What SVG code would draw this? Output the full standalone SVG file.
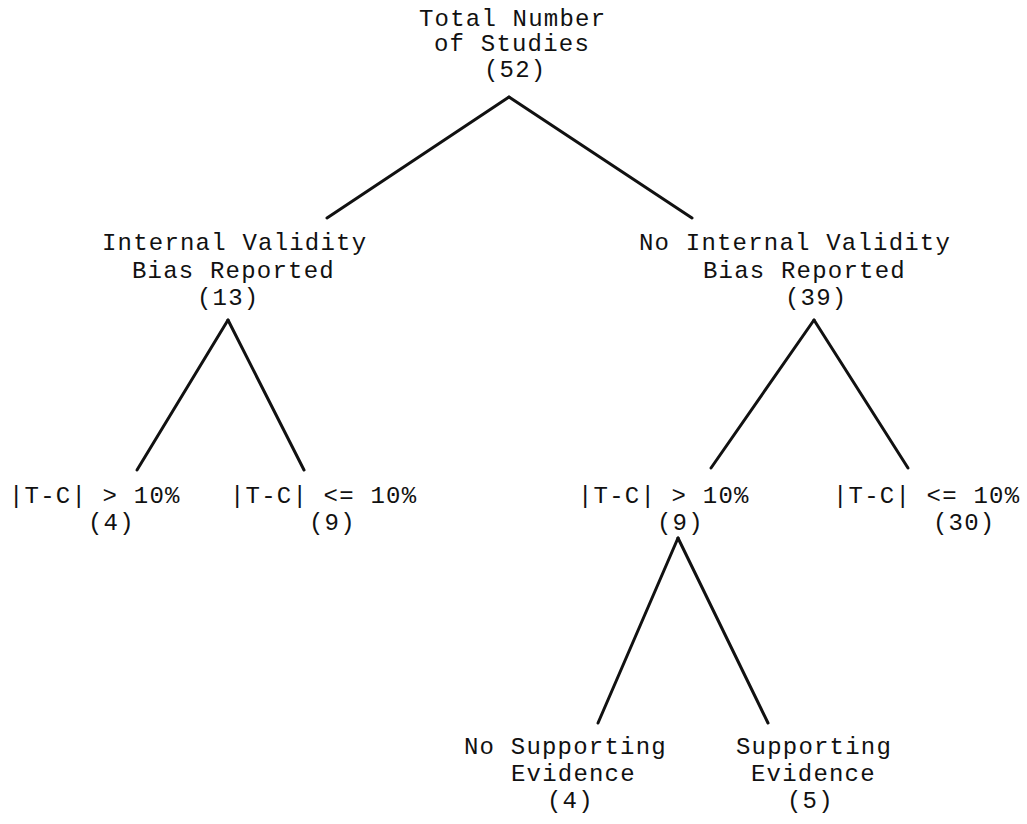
<svg xmlns="http://www.w3.org/2000/svg" width="1027" height="824" viewBox="0 0 1027 824">
<style>
text{font-family:"Liberation Mono","DejaVu Sans Mono",monospace;font-size:24px;letter-spacing:1.2px;fill:#111}
.c line{stroke:#111;stroke-width:3;stroke-linecap:round}
</style>
<rect width="1027" height="824" fill="#fff"/>
<g class="c" id="connectors">
<line x1="509" y1="97" x2="327" y2="218"/>
<line x1="509" y1="97" x2="692" y2="218"/>
<line x1="228" y1="320" x2="137" y2="470"/>
<line x1="228" y1="320" x2="304" y2="470"/>
<line x1="814" y1="320" x2="711" y2="468"/>
<line x1="814" y1="320" x2="908" y2="468"/>
<line x1="678" y1="538" x2="598" y2="723"/>
<line x1="678" y1="538" x2="768" y2="723"/>
</g>
<g id="root">
<text x="419" y="26">Total Number</text>
<text x="434" y="51">of Studies</text>
<text x="484" y="77">(52)</text>
</g>
<g id="ivb">
<text x="102" y="250">Internal Validity</text>
<text x="132" y="278">Bias Reported</text>
<text x="197" y="305">(13)</text>
</g>
<g id="noivb">
<text x="639" y="250">No Internal Validity</text>
<text x="703" y="278">Bias Reported</text>
<text x="785" y="305">(39)</text>
</g>
<g id="ivb-gt">
<text x="9" y="503">|T-C| &gt; 10%</text>
<text x="88" y="530">(4)</text>
</g>
<g id="ivb-le">
<text x="230" y="503">|T-C| &lt;= 10%</text>
<text x="309" y="530">(9)</text>
</g>
<g id="noivb-gt">
<text x="578" y="503">|T-C| &gt; 10%</text>
<text x="657" y="530">(9)</text>
</g>
<g id="noivb-le">
<text x="833" y="503">|T-C| &lt;= 10%</text>
<text x="933" y="530">(30)</text>
</g>
<g id="no-support">
<text x="464" y="754">No Supporting</text>
<text x="511" y="781">Evidence</text>
<text x="547" y="808">(4)</text>
</g>
<g id="support">
<text x="736" y="754">Supporting</text>
<text x="751" y="781">Evidence</text>
<text x="787" y="808">(5)</text>
</g>
</svg>
